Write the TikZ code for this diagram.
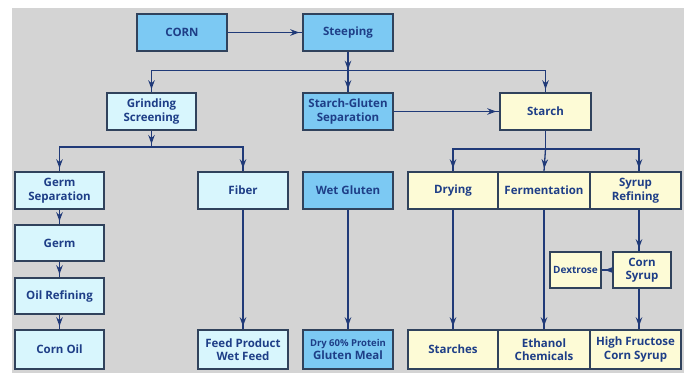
\documentclass[tikz,border=0pt]{standalone}
\usepackage{fontspec}
\setmainfont{Open Sans}
\usetikzlibrary{arrows.meta,decorations.markings,shadows}
\definecolor{bggray}{RGB}{212,212,212}
\definecolor{cyanbox}{RGB}{216,246,253}
\definecolor{bluebox}{RGB}{124,201,243}
\definecolor{yellowbox}{RGB}{253,251,214}
\definecolor{txtblue}{RGB}{30,62,135}
\definecolor{linecol}{RGB}{32,58,120}
\definecolor{edgecol}{RGB}{48,66,92}
\tikzset{
  box/.style={draw=edgecol, line width=1.5pt, minimum height=37pt, align=center,
    text=txtblue, font=\fontsize{11.5}{13.5}\selectfont\bfseries, inner sep=1pt,
    drop shadow={shadow xshift=1pt, shadow yshift=-1pt, opacity=0.35, fill=black}},
  cbox/.style={box, fill=cyanbox},
  bbox/.style={box, fill=bluebox},
  ybox/.style={box, fill=yellowbox},
  conn/.style={draw=linecol, line width=1.3pt},
  tip/.style={conn, postaction={decorate}, decoration={markings,
    mark=at position -3pt with {\arrow[linecol]{Stealth[length=9pt,width=6.5pt]}}}},
  tipat/.style={conn, postaction={decorate}, decoration={markings,
    mark=at position #1 with {\arrow[linecol]{Stealth[length=9pt,width=6.5pt]}},
    mark=at position -3pt with {\arrow[linecol]{Stealth[length=9pt,width=6.5pt]}}}},
}
\begin{document}
\begin{tikzpicture}[x=1pt,y=-1pt]
\useasboundingbox (0,0) rectangle (688,374);
\fill[white] (0,0) rectangle (688,374);
\fill[bggray] (12,8) rectangle (684,373);
% row 0
\node[bbox, minimum width=90pt] (corn) at (182,32.5) {CORN};
\node[bbox, minimum width=90pt] (steep) at (348,32.5) {Steeping};
% row 1
\node[cbox, minimum width=89pt] (grind) at (151.5,111.5) {Grinding\\Screening};
\node[bbox, minimum width=90pt] (sgs) at (348,111.5) {Starch-Gluten\\Separation};
\node[ybox, minimum width=91pt] (starch) at (545.5,111.5) {Starch};
% row 2
\node[cbox, minimum width=89pt] (germsep) at (59.5,190.5) {Germ\\Separation};
\node[cbox, minimum width=90pt] (fiber) at (243,190.5) {Fiber};
\node[bbox, minimum width=90pt] (wetg) at (348,190.5) {Wet Gluten};
\node[ybox, minimum width=90pt] (dry) at (453,190.5) {Drying};
\node[ybox, minimum width=92pt] (ferm) at (544,190.5) {Fermentation};
\node[ybox, minimum width=91pt] (syrup) at (635.5,190.5) {Syrup\\Refining};
% germ column
\node[cbox, minimum width=89pt, minimum height=36pt] (germ) at (59.5,243) {Germ};
\node[cbox, minimum width=89pt, minimum height=36pt] (oil) at (59.5,296) {Oil Refining};
% syrup sub-boxes
\node[ybox, minimum width=51pt, minimum height=36pt, font=\fontsize{10}{12}\selectfont\bfseries] (dex) at (575.5,270) {Dextrose};
\node[ybox, minimum width=58pt, minimum height=36pt] (csyr) at (642,270) {Corn\\Syrup};
% bottom row
\node[cbox, minimum width=89pt, minimum height=39pt] (cornoil) at (59.5,349.5) {Corn Oil};
\node[cbox, minimum width=90pt, minimum height=39pt] (feed) at (243,349.5) {Feed Product\\Wet Feed};
\node[bbox, minimum width=90pt, minimum height=39pt] (drymeal) at (348,349.5) {{\fontsize{9.5}{11}\selectfont Dry 60\% Protein}\\Gluten Meal};
\node[ybox, minimum width=90pt, minimum height=39pt] (starches) at (453,349.5) {Starches};
\node[ybox, minimum width=92pt, minimum height=39pt] (ethanol) at (544,349.5) {Ethanol\\Chemicals};
\node[ybox, minimum width=91pt, minimum height=39pt] (hfcs) at (635.5,349.5) {High Fructose\\Corn Syrup};
% split coordinates
\coordinate (s1) at (348,70.5);
\coordinate (s2) at (151.5,147);
\coordinate (s3) at (545.5,149);
% connectors
\draw[tip] (corn.east) -- (steep.west);
\draw[tipat=18pt] (steep.south) -- (sgs.north);
\draw[tip] (s1) -| (grind.north);
\draw[tip] (s1) -| (starch.north);
\draw[tip] (sgs.east) -- (starch.west);
\draw[tip] (grind.south) -- (s2);
\draw[tip] (s2) -| (germsep.north);
\draw[tip] (s2) -| (fiber.north);
\draw[tip] (germsep) -- (germ);
\draw[tip] (germ) -- (oil);
\draw[tip] (oil) -- (cornoil);
\draw[tip] (fiber) -- (feed);
\draw[tip] (wetg) -- (drymeal);
\draw[conn] (starch.south) -- (s3);
\draw[tip] (s3) -| (dry.north);
\draw[tip] (s3) -- (ferm.north);
\draw[tip] (s3) -| ([xshift=3.5pt]syrup.north);
\draw[tip] (dry) -- (starches);
\draw[tip] (ferm) -- (ethanol);
\draw[tip] ([xshift=3.5pt]syrup.south) -- ([xshift=3.5pt]syrup.south |- csyr.north);
\draw[tip] ([xshift=3.5pt]hfcs.north |- csyr.south) -- ([xshift=3.5pt]hfcs.north);
\draw[tip] (csyr.west) -- (dex.east);
\end{tikzpicture}
\end{document}
